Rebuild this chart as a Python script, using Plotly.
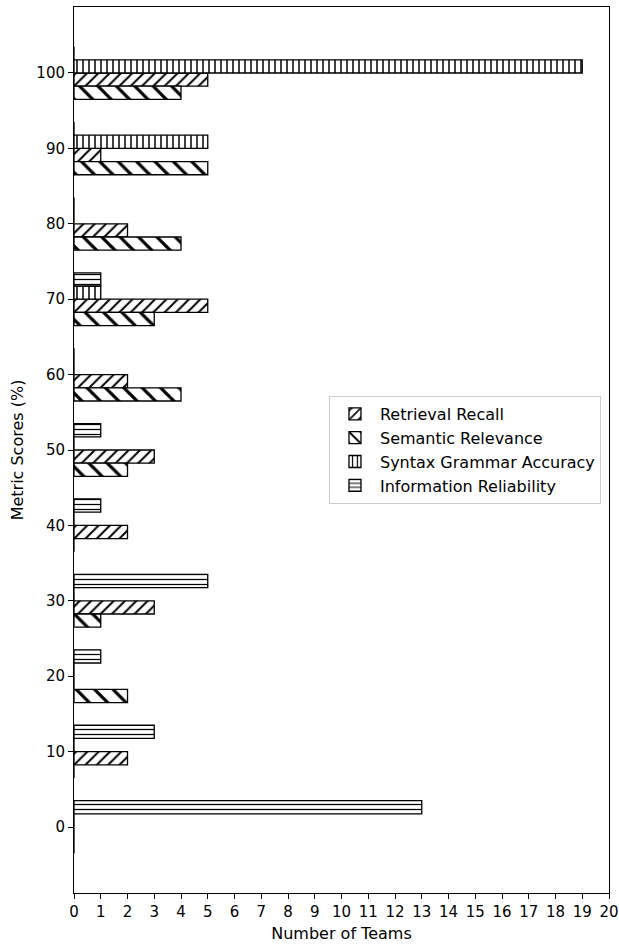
import plotly.graph_objects as go

score_bins = [0, 10, 20, 30, 40, 50, 60, 70, 80, 90, 100]
series_names = ["Retrieval Recall", "Semantic Relevance", "Syntax Grammar Accuracy", "Information Reliability"]
retrieval_recall = [0, 2, 0, 3, 2, 3, 2, 5, 2, 1, 5]
semantic_relevance = [0, 0, 2, 1, 0, 2, 4, 3, 4, 5, 4]
syntax_grammar = [0, 0, 0, 0, 0, 0, 0, 1, 0, 5, 19]
info_reliability = [13, 3, 1, 5, 1, 1, 0, 1, 0, 0, 0]
x_ticks = list(range(0, 21))
y_ticks = list(range(0, 101, 10))

bar_h = 1.75
styles = [
    (series_names[0], retrieval_recall, "/", 8, -bar_h),
    (series_names[1], semantic_relevance, "\\", 13, -2 * bar_h),
    (series_names[2], syntax_grammar, "|", 6, 0.0),
    (series_names[3], info_reliability, "-", 5, bar_h),
]

font = "DejaVu Sans, Liberation Sans, sans-serif"
fs = 15
fs_title = 16
fig = go.Figure()
for name, vals, shape, size, off in styles:
    fig.add_trace(go.Bar(
        y=score_bins, x=vals, orientation="h", name=name,
        width=bar_h, offset=off,
        marker=dict(color="white",
                    line=dict(color="black", width=1.3),
                    pattern=dict(shape=shape, size=size, solidity=0.25,
                                 fgcolor="black", bgcolor="white", fillmode="replace")),
    ))

fig.update_layout(
    width=619, height=945,
    margin=dict(l=74, r=10, t=7, b=52, autoexpand=False),
    paper_bgcolor="white", plot_bgcolor="white",
    barmode="overlay",
    font=dict(family=font, size=fs, color="black"),
    showlegend=True,
    legend=dict(x=0.985, xanchor="right", y=0.5, yanchor="middle",
                bordercolor="#cccccc", borderwidth=1, bgcolor="rgba(255,255,255,0.8)",
                font=dict(family=font, size=fs_title, color="black"), tracegroupgap=0,
                itemwidth=40),
)
fig.update_xaxes(range=[0, 20], tickvals=x_ticks, ticks="outside", ticklen=5, tickwidth=1,
                 tickcolor="black", showline=True, linecolor="black", linewidth=1, mirror=True,
                 showgrid=False, zeroline=False, automargin=False,
                 tickfont=dict(family=font, size=fs, color="black"),
                 title=dict(text="Number of Teams", standoff=7,
                            font=dict(family=font, size=fs_title, color="black")))
fig.update_yaxes(range=[-8.75, 108.75], tickvals=y_ticks, ticks="outside", ticklen=5, tickwidth=1,
                 tickcolor="black", showline=True, linecolor="black", linewidth=1, mirror=True,
                 showgrid=False, zeroline=False, automargin=False,
                 tickfont=dict(family=font, size=fs, color="black"),
                 title=dict(text="Metric Scores (%)", standoff=8,
                            font=dict(family=font, size=fs_title, color="black")))

fig.write_html("out.html", config={"displayModeBar": False},
               post_script="document.body.style.margin='0';")
